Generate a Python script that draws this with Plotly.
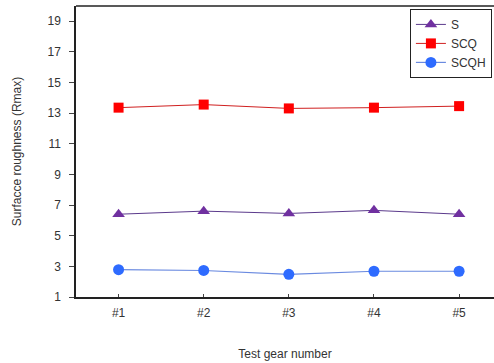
import plotly.graph_objects as go

categories = ["#1", "#2", "#3", "#4", "#5"]
s_vals = [6.4, 6.6, 6.45, 6.65, 6.4]
scq_vals = [13.35, 13.55, 13.3, 13.35, 13.45]
scqh_vals = [2.78, 2.73, 2.48, 2.68, 2.68]
y_ticks = [1, 3, 5, 7, 9, 11, 13, 15, 17, 19]

x_idx = list(range(1, len(categories) + 1))

fig = go.Figure()
fig.add_trace(go.Scatter(x=x_idx, y=s_vals, name="S", mode="lines+markers",
                         line=dict(color="#5B3A8C", width=1),
                         marker=dict(symbol="triangle-up", size=11, color="#7030A0")))
fig.add_trace(go.Scatter(x=x_idx, y=scq_vals, name="SCQ", mode="lines+markers",
                         line=dict(color="#D02020", width=1),
                         marker=dict(symbol="square", size=10, color="#FF0000")))
fig.add_trace(go.Scatter(x=x_idx, y=scqh_vals, name="SCQH", mode="lines+markers",
                         line=dict(color="#6A8AE0", width=1.2),
                         marker=dict(symbol="circle", size=11, color="#2E6BFF")))

fig.add_shape(type="line", xref="paper", yref="paper", x0=0, x1=1, y0=1, y1=1,
              line=dict(color="#222222", width=1.5))

fig.update_layout(
    width=494, height=363,
    margin=dict(l=76, r=0, t=6, b=66, autoexpand=False),
    paper_bgcolor="white", plot_bgcolor="white",
    font=dict(family="Liberation Sans, Arial, sans-serif", size=12, color="#333333"),
    showlegend=True,
    legend=dict(x=0.995, y=0.99, xanchor="right", yanchor="top",
                bordercolor="#222222", borderwidth=1, bgcolor="white",
                font=dict(size=12, color="#333333"),
                tracegroupgap=0, itemwidth=30),
    xaxis=dict(range=[0.5, 5.41], tickmode="array", tickvals=x_idx, ticktext=categories,
               automargin=False,
               showgrid=False, zeroline=False, showline=True, linecolor="#222222", linewidth=1.5,
               ticks="inside", ticklen=3, tickcolor="#444444",
               ticklabelstandoff=4,
               title=dict(text="Test gear number", standoff=30, font=dict(size=12))),
    yaxis=dict(range=[1, 19.98], tickmode="array", tickvals=y_ticks,
               automargin=False,
               showgrid=False, zeroline=False, showline=True, linecolor="#222222", linewidth=1.5,
               ticks="outside", ticklen=5, tickcolor="#444444",
               ticklabelstandoff=6,
               title=dict(text="Surfacce roughness (Rmax)", standoff=23, font=dict(size=12))),
)

fig.write_html("out.html", config={"displayModeBar": False},
               post_script="document.body.style.margin='0';document.body.style.overflow='hidden';")
